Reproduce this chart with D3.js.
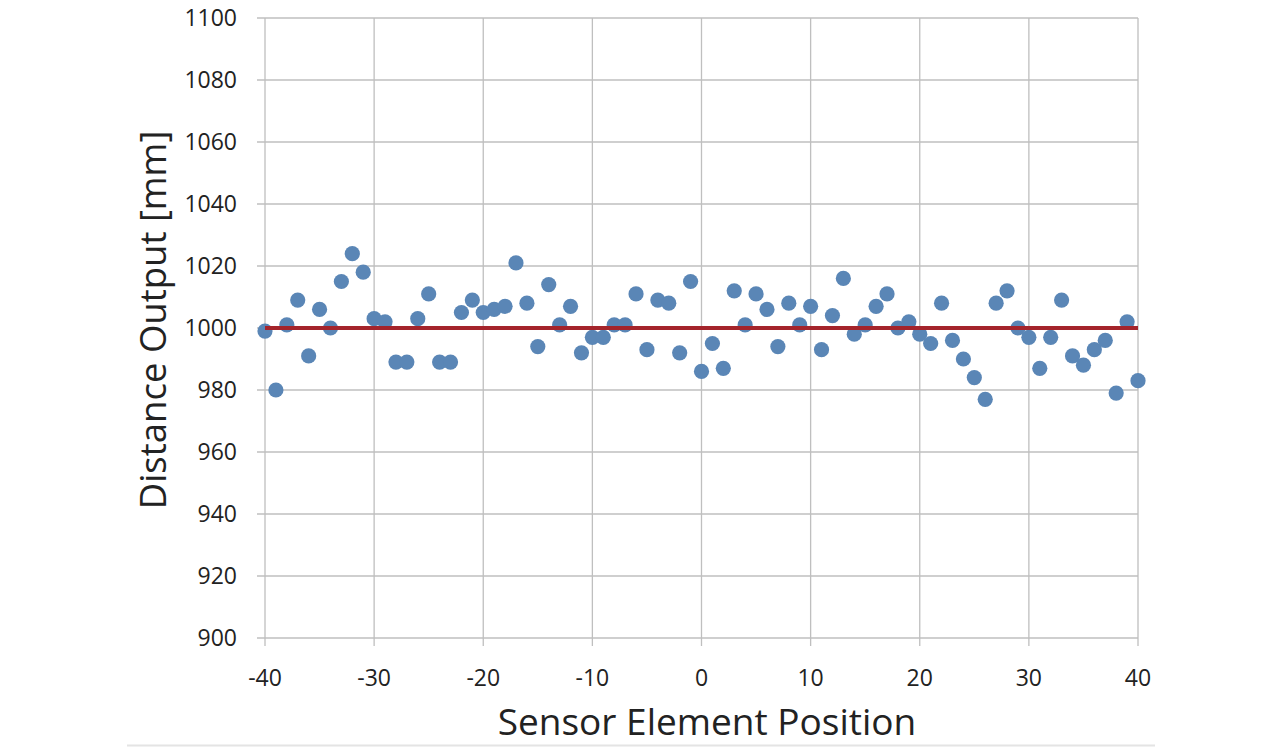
<!DOCTYPE html>
<html><head><meta charset="utf-8">
<script src="https://cdn.jsdelivr.net/npm/d3@7/dist/d3.min.js"></script>
<style>body{margin:0;background:#fff;}svg{display:block;font-family:"Open Sans","Noto Sans",sans-serif;}</style>
</head><body>
<script>
const positions = d3.range(-40, 41);
const distances = [
 999, 980, 1001, 1009, 991, 1006, 1000, 1015, 1024, 1018,
 1003, 1002, 989, 989, 1003, 1011, 989, 989, 1005, 1009,
 1005, 1006, 1007, 1021, 1008, 994, 1014, 1001, 1007, 992,
 997, 997, 1001, 1001, 1011, 993, 1009, 1008, 992, 1015,
 986, 995, 987, 1012, 1001, 1011, 1006, 994, 1008, 1001,
 1007, 993, 1004, 1016, 998, 1001, 1007, 1011, 1000, 1002,
 998, 995, 1008, 996, 990, 984, 977, 1008, 1012, 1000,
 997, 987, 997, 1009, 991, 988, 993, 996, 979, 1002, 983
];
const referenceValue = 1000;
const xTicks = [-40, -30, -20, -10, 0, 10, 20, 30, 40];
const yTicks = [900, 920, 940, 960, 980, 1000, 1020, 1040, 1060, 1080, 1100];
const xTitle = "Sensor Element Position";
const yTitle = "Distance Output [mm]";

const W = 1284, H = 750;
const L = 265, R = 1138, T = 18, B = 638;
const svg = d3.select("body").append("svg").attr("width", W).attr("height", H);
const x = d3.scaleLinear().domain([-40, 40]).range([L, R]);
const y = d3.scaleLinear().domain([900, 1100]).range([B, T]);
const grid = "#bfbfbf";

// horizontal gridlines
svg.append("g").selectAll("line").data(yTicks).join("line")
  .attr("x1", L - 8).attr("x2", R).attr("y1", d => y(d)).attr("y2", d => y(d))
  .attr("stroke", grid).attr("stroke-width", 1.3);
// vertical gridlines
svg.append("g").selectAll("line").data(xTicks).join("line")
  .attr("x1", d => x(d)).attr("x2", d => x(d)).attr("y1", T).attr("y2", B + 8)
  .attr("stroke", grid).attr("stroke-width", 1.3);

// y tick labels
svg.append("g").selectAll("text").data(yTicks).join("text")
  .attr("x", L - 28).attr("y", d => y(d)).attr("dy", "0.36em")
  .attr("text-anchor", "end").attr("font-size", 23).attr("fill", "#222")
  .text(d => d);
// x tick labels
svg.append("g").selectAll("text").data(xTicks).join("text")
  .attr("x", d => x(d)).attr("y", B + 48)
  .attr("text-anchor", "middle").attr("font-size", 23).attr("fill", "#222")
  .text(d => d);

// points
const pts = positions.map((p, i) => ({p, v: distances[i]}));
svg.append("g").selectAll("circle").data(pts).join("circle")
  .attr("cx", d => x(d.p)).attr("cy", d => y(d.v)).attr("r", 7.6)
  .attr("fill", "#5a86b6");

// reference line
svg.append("line")
  .attr("x1", x(-40)).attr("x2", x(40)).attr("y1", y(referenceValue)).attr("y2", y(referenceValue))
  .attr("stroke", "#a4242b").attr("stroke-width", 4);

// axis titles
svg.append("text").attr("x", 707).attr("y", 735)
  .attr("text-anchor", "middle").attr("font-size", 37).attr("fill", "#222").text(xTitle);
svg.append("text").attr("transform", `translate(166,320) rotate(-90)`)
  .attr("text-anchor", "middle").attr("font-size", 36.5).attr("fill", "#222").text(yTitle);

// bottom separator
svg.append("line").attr("x1", 127).attr("x2", 1155).attr("y1", 745.5).attr("y2", 745.5)
  .attr("stroke", "#e4e4e4").attr("stroke-width", 2);
</script>
</body></html>
